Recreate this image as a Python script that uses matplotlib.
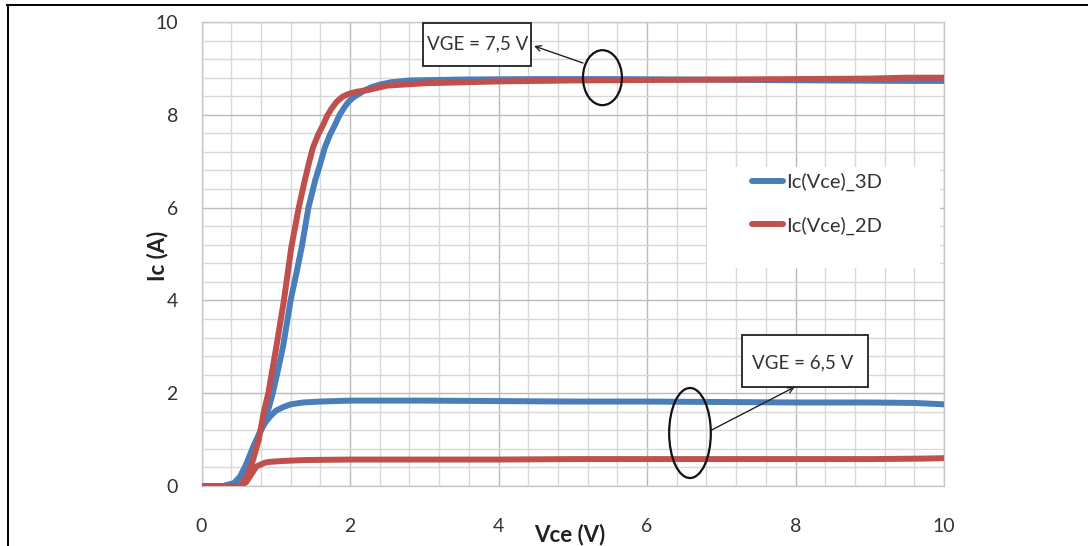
import matplotlib
matplotlib.use("Agg")
import matplotlib.pyplot as plt
from matplotlib.patches import Ellipse, Rectangle
from matplotlib.lines import Line2D
import numpy as np

# ---- data ----
x_3d_75 = [0, 0.3, 0.44, 0.52, 0.6, 0.7, 0.8, 0.9, 0.96, 1.03, 1.1, 1.2, 1.28, 1.35, 1.44, 1.53,
           1.6, 1.66, 1.73, 1.8, 1.86, 1.92, 1.98, 2.05, 2.13, 2.2, 2.3, 2.4, 2.55, 2.8, 3.5,
           4.5, 5.5, 6.5, 7.5, 8.5, 9.5, 10]
y_3d_75 = [0, 0, 0.06, 0.2, 0.45, 0.85, 1.2, 1.65, 2.0, 2.5, 3.02, 4.0, 4.6, 5.15, 6.0, 6.58,
           6.95, 7.29, 7.57, 7.79, 8.0, 8.15, 8.28, 8.38, 8.46, 8.53, 8.6, 8.65, 8.7, 8.74, 8.76,
           8.77, 8.77, 8.76, 8.75, 8.74, 8.73, 8.73]

x_3d_65 = [0, 0.3, 0.44, 0.52, 0.6, 0.7, 0.8, 0.86, 0.92, 1.0, 1.1, 1.2, 1.37, 1.6, 2.0, 3, 4, 5,
           6, 7, 8, 9, 9.6, 10]
y_3d_65 = [0, 0, 0.06, 0.2, 0.45, 0.85, 1.2, 1.37, 1.49, 1.62, 1.7, 1.76, 1.8, 1.82, 1.84, 1.84,
           1.83, 1.82, 1.82, 1.81, 1.8, 1.8, 1.79, 1.76]

x_2d_75 = [0, 0.52, 0.61, 0.68, 0.77, 0.84, 0.9, 1.01, 1.11, 1.21, 1.31, 1.39, 1.45, 1.5, 1.57,
           1.64, 1.69, 1.75, 1.82, 1.9, 2.0, 2.1, 2.23, 2.5, 3, 4, 5, 6, 7, 8, 9, 9.5, 10]
y_2d_75 = [0, 0, 0.2, 0.49, 0.99, 1.6, 2.0, 3.02, 4.0, 5.15, 6.0, 6.58, 6.98, 7.29, 7.57,
           7.79, 7.97, 8.13, 8.28, 8.39, 8.46, 8.5, 8.53, 8.63, 8.68, 8.72, 8.74, 8.75, 8.76,
           8.77, 8.78, 8.8, 8.8]

x_2d_65 = [0, 0.52, 0.6, 0.65, 0.74, 0.85, 0.92, 1.1, 1.4, 2, 3, 4, 5, 6, 7, 8, 9, 9.7, 10]
y_2d_65 = [0, 0, 0.08, 0.2, 0.42, 0.5, 0.52, 0.54, 0.56, 0.57, 0.57, 0.57, 0.58, 0.58,
           0.58, 0.58, 0.58, 0.59, 0.6]

label_3d = "Ic(Vce)_3D"
label_2d = "Ic(Vce)_2D"
x_label = "Vce (V)"
y_label = "Ic (A)"
note_75 = "VGE = 7,5 V"
note_65 = "VGE = 6,5 V"

BLUE = "#4a7ebb"
RED = "#c0504d"

plt.rcParams['font.family'] = ['Lato', 'DejaVu Sans']

fig = plt.figure(figsize=(10.88, 5.46), dpi=100)
ax = fig.add_axes([201.5 / 1088, 1 - 486 / 546, 742.5 / 1088, 464 / 546])

ax.set_xlim(0, 10)
ax.set_ylim(0, 10)
ax.set_xticks(np.arange(0, 10.01, 2))
ax.set_yticks(np.arange(0, 10.01, 2))
ax.set_xticks(np.arange(0, 10.01, 0.4), minor=True)
ax.set_yticks(np.arange(0, 10.01, 0.4), minor=True)
ax.grid(True, which='minor', color='#d8d8d8', lw=1.0)
ax.grid(True, which='major', color='#bbbbbb', lw=1.0)
ax.set_axisbelow(True)
ax.tick_params(which='both', length=0)
ax.tick_params(axis='y', pad=17, labelsize=14, labelcolor='#333333')
ax.tick_params(axis='x', pad=23, labelsize=14, labelcolor='#333333')
for s in ax.spines.values():
    s.set_color('#c8c8c8')
    s.set_linewidth(1.0)

# legend background (white, hides grid)
ax.add_patch(Rectangle((0.681, 0.470), 0.314, 0.2175, transform=ax.transAxes,
                       fc='white', ec='none', zorder=1))

lw = 4.3
style = dict(lw=lw, solid_capstyle='round', solid_joinstyle='round')
l3, = ax.plot(x_3d_75, y_3d_75, color=BLUE, zorder=3, label=label_3d, **style)
ax.plot(x_3d_65, y_3d_65, color=BLUE, zorder=3, **style)
l2, = ax.plot(x_2d_75, y_2d_75, color=RED, zorder=4, label=label_2d, **style)
ax.plot(x_2d_65, y_2d_65, color=RED, zorder=4, **style)

leg = ax.legend(handles=[l3, l2], loc='upper left', bbox_to_anchor=(0.742, 0.675),
                frameon=False, fontsize=14.5, handlelength=1.5, handletextpad=0.15,
                labelspacing=1.25, borderpad=0, borderaxespad=0)
for t in leg.get_texts():
    t.set_color('#333333')

# annotation boxes
ax.add_patch(Rectangle((2.98, 9.05), 1.46, 0.935, fc='white', ec='#222222', lw=1.3, zorder=5))
ax.text(3.72, 9.52, note_75, ha='center', va='center', fontsize=13.5, color='#333333', zorder=6)
ax.add_patch(Rectangle((7.275, 2.134), 1.70, 1.12, fc='white', ec='#222222', lw=1.3, zorder=5))
ax.text(8.10, 2.66, note_65, ha='center', va='center', fontsize=13.5, color='#333333', zorder=6)

# ellipses
ax.add_patch(Ellipse((5.40, 8.80), 0.525, 1.185, fc='none', ec='#111111', lw=1.6, zorder=6))
ax.add_patch(Ellipse((6.579, 1.142), 0.561, 1.94, fc='none', ec='#111111', lw=1.6, zorder=6))

# arrows
ax.annotate('', xy=(4.478, 9.483), xytext=(5.138, 9.116),
            arrowprops=dict(arrowstyle='->', color='#222222', lw=1.0, shrinkA=0, shrinkB=0),
            zorder=6)
ax.annotate('', xy=(7.99, 2.134), xytext=(6.871, 1.207),
            arrowprops=dict(arrowstyle='->', color='#222222', lw=1.0, shrinkA=0, shrinkB=0),
            zorder=6)

# axis labels
fig.text(570 / 1088, 1 - 535 / 546, x_label, ha='center', va='center', fontsize=16,
         fontweight='bold', color='#222222')
fig.text(158 / 1088, 1 - 256 / 546, y_label, ha='center', va='center', fontsize=16,
         fontweight='bold', color='#222222', rotation=90)

# outer frame lines (top and left)
fig.add_artist(Line2D([7 / 1088, 1.0], [1 - 5 / 546, 1 - 5 / 546], color='black', lw=1.4,
                      transform=fig.transFigure))
fig.add_artist(Line2D([8 / 1088, 8 / 1088], [0, 1 - 5 / 546], color='black', lw=1.4,
                      transform=fig.transFigure))

fig.savefig("out.png", dpi=100)
